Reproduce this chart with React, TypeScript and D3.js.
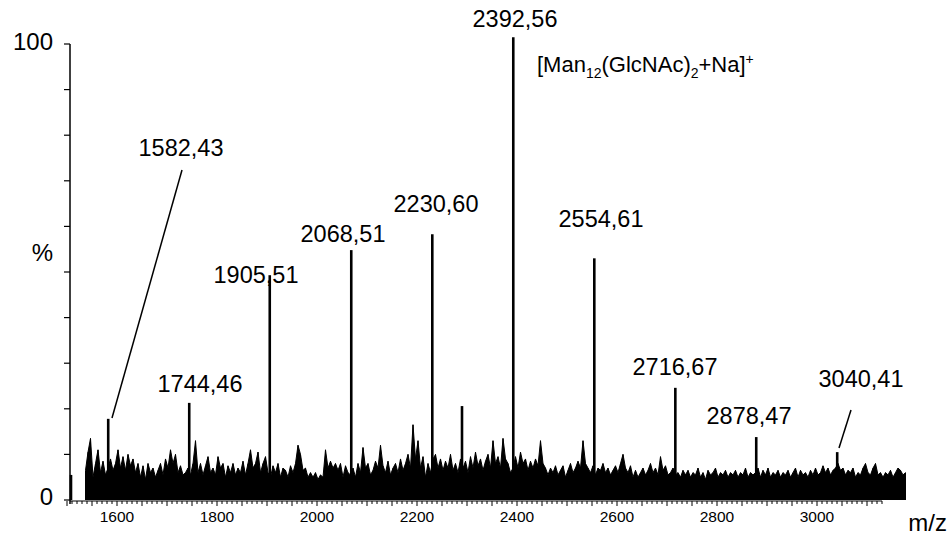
import React from "react";
import * as d3 from "d3";

// ---- data ----
const noiseStartMz = 1537;
const noiseStepMz = 5;
const noiseValues: number[] = [
  6.5, 10.5, 13.5, 5, 8, 11, 6, 8.5, 5.5, 7, 9, 6.5, 8, 11, 7, 9.5, 6.5, 10, 7.5, 9,
  6, 8, 5, 7.5, 4.5, 8, 6, 7, 5, 6.5, 8, 5.5, 9, 7, 11, 8, 10, 6, 7.5, 5.5,
  6, 7, 5.5, 8, 13, 6, 8, 5.5, 7.5, 9.5, 6, 7, 5.5, 9.5, 7, 8, 5, 7.5, 6, 8,
  5.5, 7, 6, 8.5, 5.5, 8, 11, 7, 8, 10.5, 6, 8, 9.5, 6, 5, 7.5, 6, 8, 5, 7,
  6.5, 5, 7.5, 6, 8, 12, 10, 6.5, 7, 5, 6, 5, 6, 4.5, 5.5, 5, 11, 7, 8.5, 7,
  8, 6.5, 8, 5, 7.5, 6, 5.5, 7, 5, 8, 6, 11.5, 7, 8, 5.5, 6.5, 8.5, 7, 12, 7.5,
  6, 8.5, 5.5, 7, 8, 6, 9, 6.5, 8, 10, 7, 16.5, 9, 13, 7, 9.5, 5, 8, 6, 9,
  10, 7, 9, 6.5, 8.5, 7, 10, 6.5, 8, 6, 9, 7, 8.5, 6, 9.5, 7, 10.5, 7.5, 9, 6.5,
  8.5, 10, 7, 13, 8, 9.5, 7, 13.5, 9, 8, 6, 7, 9.5, 7, 10.5, 8, 9, 6.5, 8.5, 7,
  9, 7.5, 13, 8, 7, 5.5, 7, 6, 7.5, 5.5, 6.5, 7.5, 5, 6.5, 8, 6, 7, 8.5, 7, 13,
  8, 7, 6, 7.5, 5.5, 7, 6.5, 8, 6, 7, 5.5, 6.5, 7.5, 6, 8, 10, 7, 6, 7.5, 5,
  6.5, 5, 6, 7, 5.5, 6.5, 8, 6, 7, 5.5, 9.5, 6.5, 7.5, 5.5, 6, 7, 5.5, 6, 5, 6.5,
  5.5, 6.5, 5, 6, 5.5, 7, 5, 6, 4.5, 6.5, 5.5, 6, 7, 5, 6, 5.5, 6.5, 5, 6, 5.5,
  6.5, 5, 6, 5.5, 7, 5, 6, 5.5, 6, 7, 5, 6.5, 5.5, 7, 5, 6, 5.5, 6.5, 5, 6,
  5.5, 6.5, 5, 6, 7, 5, 6.5, 5.5, 6, 5, 6.5, 5.5, 7, 5.5, 6, 7.5, 6, 7, 5.5, 6.5,
  7, 8, 6.5, 7, 5.5, 6.5, 6, 7, 5, 6, 5.5, 7, 8, 6, 5.5, 7, 8, 5.5, 6, 5,
  6, 5.5, 6.5, 5, 6, 7, 6.5, 5.5, 6,
];

const peakMz = [1508, 1582.43, 1744.46, 1905.51, 2068.51, 2230.6, 2290, 2392.56, 2554.61, 2716.67, 2878.47, 3040.41];
const peakIntensity = [5.5, 17.8, 21.3, 49.3, 54.8, 58.3, 20.6, 101.5, 53, 24.6, 13.8, 10.5];

const labelText = ["1582,43", "1744,46", "1905,51", "2068,51", "2230,60", "2392,56", "2554,61", "2716,67", "2878,47", "3040,41"];
const labelMz = [1728, 1766, 1878, 2052, 2238, 2396, 2568, 2716, 2864, 3088];
const labelIntensity = [75.4, 23.7, 47.6, 56.6, 63.2, 103.7, 59.9, 27.4, 16.7, 24.8];

const xTickLabels = [1600, 1800, 2000, 2200, 2400, 2600, 2800, 3000];
const yTickValues = [0, 10, 20, 30, 40, 50, 60, 70, 80, 90, 100];

// ---- layout ----
const W = 949;
const H = 536;
const FONT = "'Liberation Sans', Arial, sans-serif";

export default function App() {
  const x = d3.scaleLinear().domain([1600, 3000]).range([117, 817]);
  const y = d3.scaleLinear().domain([0, 100]).range([500, 44]);

  const noise = noiseValues.map((v, i) => ({ mz: noiseStartMz + i * noiseStepMz, v }));
  const area = d3
    .area<{ mz: number; v: number }>()
    .x((d) => x(d.mz))
    .y0(y(0))
    .y1((d) => y(d.v));
  const line = d3
    .line<{ mz: number; v: number }>()
    .x((d) => x(d.mz))
    .y((d) => y(d.v));

  const minorTicks = d3.range(1500, 3131, 10);

  return (
    <svg width={W} height={H} style={{ position: "absolute", left: 0, top: 0, background: "#fff" }} fontFamily={FONT}>
      <rect width={W} height={H} fill="#fff" />
      {/* y axis */}
      <line x1={70} x2={70} y1={y(100)} y2={504} stroke="#000" strokeWidth={1.5} />
      {yTickValues.map((t) => (
        <line key={t} x1={64} x2={70} y1={y(t)} y2={y(t)} stroke="#000" strokeWidth={1.2} />
      ))}
      <text x={53} y={50} fontSize={24} textAnchor="end">100</text>
      <text x={53} y={505} fontSize={24} textAnchor="end">0</text>
      <text x={53} y={261} fontSize={24} textAnchor="end">%</text>

      {/* x axis */}
      <line x1={70} x2={x(3130)} y1={501} y2={501} stroke="#000" strokeWidth={1.2} />
      {minorTicks.map((t) => (
        <line
          key={t}
          x1={x(t)}
          x2={x(t)}
          y1={501}
          y2={t % 50 === 0 ? 506 : 504}
          stroke="#000"
          strokeWidth={1}
        />
      ))}
      {xTickLabels.map((t) => (
        <text key={t} x={x(t)} y={522} fontSize={15.5} textAnchor="middle">{t}</text>
      ))}
      <text x={947} y={531} fontSize={24} textAnchor="end">m/z</text>

      {/* spectrum noise */}
      <path d={area(noise) ?? ""} fill="#000" />
      <path d={line(noise) ?? ""} fill="none" stroke="#000" strokeWidth={1} />
      {noise.map((d) => (
        <line key={d.mz} x1={x(d.mz)} x2={x(d.mz)} y1={y(0)} y2={y(d.v)} stroke="#000" strokeWidth={1} />
      ))}

      {/* peaks */}
      {peakMz.map((m, i) => (
        <line
          key={m}
          x1={x(m)}
          x2={x(m)}
          y1={y(0)}
          y2={y(peakIntensity[i])}
          stroke="#000"
          strokeWidth={2.6}
        />
      ))}

      {/* leader lines */}
      <line x1={182} y1={170} x2={112} y2={418} stroke="#000" strokeWidth={1.5} />
      <line x1={851} y1={410} x2={839} y2={448} stroke="#000" strokeWidth={1.5} />

      {/* labels */}
      {labelText.map((t, i) => (
        <text key={t} x={x(labelMz[i])} y={y(labelIntensity[i])} fontSize={23.5} textAnchor="middle">{t}</text>
      ))}
      <text x={537} y={72} fontSize={22}>
        [Man<tspan fontSize={14} dy={6}>12</tspan>
        <tspan dy={-6}>(GlcNAc)</tspan>
        <tspan fontSize={14} dy={6}>2</tspan>
        <tspan dy={-6}>+Na]</tspan>
        <tspan fontSize={14} dy={-8}>+</tspan>
      </text>
    </svg>
  );
}
